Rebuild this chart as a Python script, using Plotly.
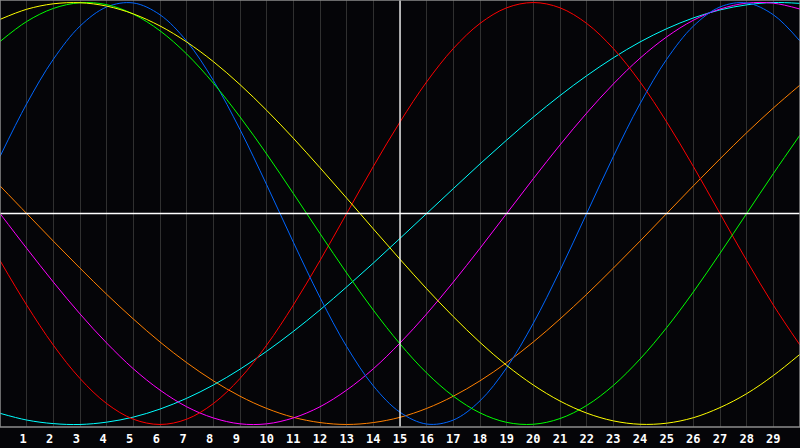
import plotly.graph_objects as go

days = list(range(0, 31))
tick_days = list(range(1, 30))
tick_labels = [str(d) for d in tick_days]
today = 15

yellow = [0.920, 0.968, 0.994, 0.999, 0.983, 0.946, 0.889, 0.813, 0.720, 0.611, 0.489, 0.357,
          0.217, 0.073, -0.073, -0.217, -0.357, -0.489, -0.611, -0.720, -0.813, -0.889, -0.946,
          -0.983, -0.999, -0.994, -0.968, -0.920, -0.854, -0.768, -0.667]
green = [0.815, 0.910, 0.972, 0.999, 0.990, 0.945, 0.866, 0.756, 0.618, 0.458, 0.282, 0.095,
         -0.095, -0.282, -0.458, -0.618, -0.756, -0.866, -0.945, -0.990, -0.999, -0.972, -0.910,
         -0.815, -0.690, -0.541, -0.372, -0.189, 0.000, 0.189, 0.372]
blue = [0.270, 0.520, 0.731, 0.888, 0.979, 0.998, 0.942, 0.817, 0.631, 0.398, 0.136, -0.136,
        -0.398, -0.631, -0.817, -0.942, -0.998, -0.979, -0.888, -0.731, -0.520, -0.270, 0.000,
        0.270, 0.520, 0.731, 0.888, 0.979, 0.998, 0.942, 0.817]
red = [-0.223, -0.434, -0.624, -0.782, -0.901, -0.975, -1.000, -0.975, -0.901, -0.782, -0.624,
       -0.434, -0.223, 0.000, 0.223, 0.434, 0.624, 0.782, 0.901, 0.975, 1.000, 0.975, 0.901,
       0.782, 0.624, 0.434, 0.223, 0.000, -0.223, -0.434, -0.624]
cyan = [-0.947, -0.979, -0.996, -1.000, -0.989, -0.965, -0.927, -0.876, -0.813, -0.738, -0.653,
        -0.559, -0.457, -0.348, -0.235, -0.118, 0.000, 0.118, 0.235, 0.348, 0.457, 0.559, 0.653,
        0.738, 0.813, 0.876, 0.927, 0.965, 0.989, 1.000, 0.996]
magenta = [0.000, -0.165, -0.325, -0.476, -0.614, -0.736, -0.837, -0.916, -0.969, -0.997, -0.997,
           -0.969, -0.916, -0.837, -0.736, -0.614, -0.476, -0.325, -0.165, 0.000, 0.165, 0.325,
           0.476, 0.614, 0.736, 0.837, 0.916, 0.969, 0.997, 0.997, 0.969]
orange = [0.131, 0.000, -0.131, -0.259, -0.383, -0.500, -0.609, -0.707, -0.793, -0.866, -0.924,
          -0.966, -0.991, -1.000, -0.991, -0.966, -0.924, -0.866, -0.793, -0.707, -0.609, -0.500,
          -0.383, -0.259, -0.131, 0.000, 0.131, 0.259, 0.383, 0.500, 0.609]

series = [
    ("orange", orange, "#ff8000"),
    ("cyan", cyan, "#00ffff"),
    ("magenta", magenta, "#ff00ff"),
    ("red", red, "#ff0000"),
    ("blue", blue, "#0066ff"),
    ("green", green, "#00ff00"),
    ("yellow", yellow, "#ffff00"),
]

fig = go.Figure()
for name, vals, col in series:
    fig.add_trace(go.Scatter(x=days, y=vals, mode="lines", name=name,
                             line=dict(color=col, width=1, shape="spline", smoothing=1.0),
                             hoverinfo="skip"))

fig.add_shape(type="line", xref="x", yref="paper", x0=today, x1=today, y0=0, y1=1,
              line=dict(color="#ffffff", width=1.3), layer="above")
fig.add_shape(type="line", xref="paper", yref="y", x0=0, x1=1, y0=0, y1=0,
              line=dict(color="#ffffff", width=1.3), layer="above")
fig.add_shape(type="rect", xref="paper", yref="paper", x0=0, x1=1, y0=0, y1=1,
              line=dict(color="#8c8c8c", width=1.5), layer="above")

fig.update_layout(
    width=800, height=448,
    margin=dict(l=0, r=0, t=0, b=21),
    paper_bgcolor="#050508",
    plot_bgcolor="#050508",
    showlegend=False,
    xaxis=dict(range=[0, 30], tickmode="array", tickvals=tick_days,
               ticktext=["<b>%s</b>" % (t if len(t) > 1 else t + "\u00a0") for t in tick_labels],
               tickfont=dict(family="DejaVu Sans Mono", size=12, color="#ffffff"),
               ticklabelstandoff=3,
               showgrid=True, gridcolor="#303030", gridwidth=1, zeroline=False,
               ticks="", showline=False, fixedrange=True),
    yaxis=dict(range=[-1.012, 1.012], showticklabels=False, showgrid=False,
               zeroline=False, showline=False, fixedrange=True),
)

fig.write_html("out.html", config={"displayModeBar": False},
               post_script="document.body.style.margin='0';document.body.style.overflow='hidden';document.body.style.background='#050508';")
